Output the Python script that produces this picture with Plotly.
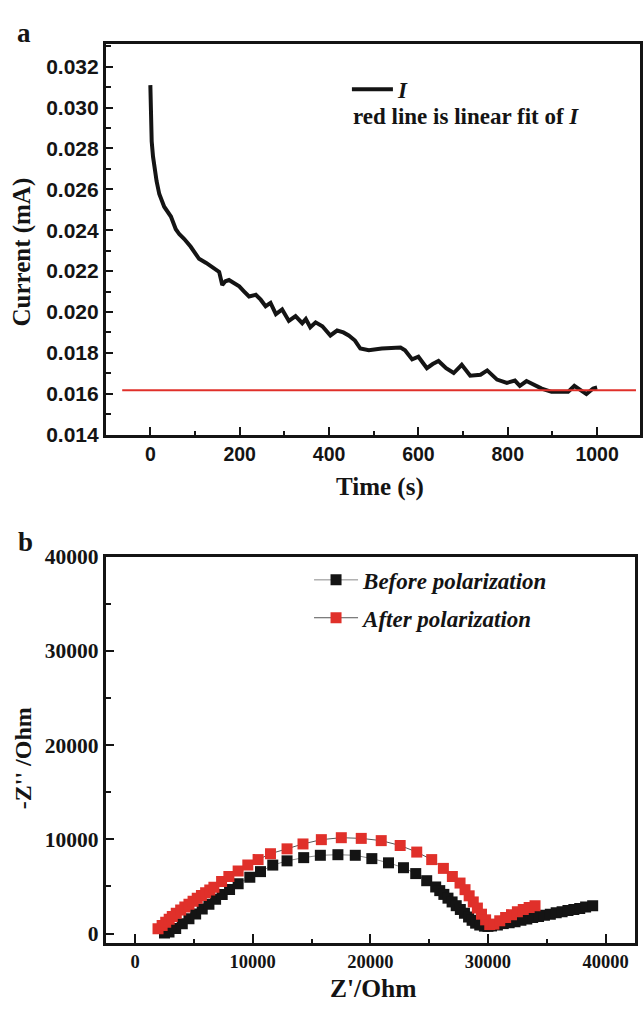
import plotly.graph_objects as go

# ---------------- Panel a data ----------------
time_s = [0, 0.5, 1.5, 3, 6, 9, 14, 20, 31, 46, 57, 65, 76, 90, 102, 109, 125, 139, 154, 161,
          168, 176, 188, 199, 210, 221, 236, 247, 258, 269, 281, 295, 310, 325, 340, 348, 358,
          370, 385, 403, 418, 432, 444, 458, 470, 489, 518, 540, 560, 570, 586, 600, 619, 632,
          645, 662, 679, 697, 716, 739, 754, 776, 798, 816, 827, 842, 861, 876, 898, 915, 935,
          949, 961, 976, 991, 1000]
current_mA = [0.03110, 0.03000, 0.02931, 0.02835, 0.02760, 0.02706, 0.02640, 0.02577, 0.02515,
              0.02467, 0.02405, 0.02380, 0.02357, 0.02320, 0.02285, 0.02260, 0.02240, 0.02220,
              0.02196, 0.02132, 0.02150, 0.02156, 0.02140, 0.02125, 0.02100, 0.02076, 0.02084,
              0.02060, 0.02028, 0.02044, 0.01989, 0.02012, 0.01956, 0.01980, 0.01945, 0.01965,
              0.01925, 0.01949, 0.01930, 0.01885, 0.01909, 0.01900, 0.01885, 0.01860, 0.01821,
              0.01813, 0.01821, 0.01823, 0.01826, 0.01813, 0.01768, 0.01781, 0.01725, 0.01745,
              0.01760, 0.01725, 0.01701, 0.01741, 0.01688, 0.01693, 0.01714, 0.01669, 0.01653,
              0.01664, 0.01638, 0.01662, 0.01641, 0.01625, 0.01609, 0.01608, 0.01609, 0.01638,
              0.01619, 0.01598, 0.01625, 0.01630]
fit_time = [-63, 1087]
fit_current = [0.01617, 0.01617]

time_ticks = [0, 200, 400, 600, 800, 1000]
current_ticks = [0.014, 0.016, 0.018, 0.020, 0.022, 0.024, 0.026, 0.028, 0.030, 0.032]

# ---------------- Panel b data ----------------
before_zre = [2500, 2884, 3452, 4012, 4580, 5148, 5708, 6277, 6845, 7405, 8032, 8762, 9754,
              10662, 11705, 12918, 14334, 15750, 17243, 18719, 20127, 21544, 22816, 23859,
              24792, 25555, 25900, 26250, 26600, 26950, 27300, 27650, 28000, 28350, 28650,
              28950, 29300, 29700, 30000, 30300, 30800, 31300, 31800, 32300, 32800, 33300,
              33800, 34300, 34800, 35300, 35800, 36300, 36800, 37300, 37800, 38300, 38900]
before_zim = [50, 166, 519, 1037, 1556, 2075, 2593, 3112, 3631, 4149, 4668, 5290, 5975,
              6566, 7261, 7708, 8050, 8299, 8361, 8299, 7946, 7500, 6981, 6359,
              5602, 4938, 4550, 4150, 3750, 3350, 2950, 2550, 2150, 1750, 1400,
              1100, 900, 780, 760, 800, 900, 1050, 1150, 1250, 1400, 1550,
              1700, 1800, 1950, 2050, 2200, 2300, 2450, 2550, 2650, 2800, 2950]

after_zre = [1950, 2300, 2604, 2900, 3164, 3500, 3876, 4230, 4580, 4930, 5284, 5640, 5997,
             6350, 6701, 7354, 7973, 8762, 9584, 10458, 11510, 12918, 14275, 15835, 17532,
             19228, 20925, 22536, 23944, 25216, 26209, 26972, 27625, 28049, 28400, 28750,
             29100, 29450, 29800, 30150, 30500, 31000, 31500, 32000, 32500, 33000, 33500, 34000]
after_zim = [500, 850, 1203, 1500, 1795, 2140, 2490, 2800, 3112, 3420, 3734, 4020, 4315,
             4610, 4907, 5529, 6048, 6639, 7261, 7842, 8465, 8983, 9502, 9959, 10166,
             10093, 9855, 9336, 8641, 7842, 6909, 6048, 5353, 4650, 4000, 3350,
             2700, 2050, 1450, 950, 1000, 1350, 1700, 2000, 2300, 2550, 2750, 2950]

zre_ticks = [0, 10000, 20000, 30000, 40000]
zim_ticks = [0, 10000, 20000, 30000, 40000]

SERIF = "Liberation Serif, Times New Roman, serif"
SANS = "Liberation Sans, Arial, sans-serif"
INK = "#141414"
RED = "#e0302a"

fig = go.Figure()

fig.add_trace(go.Scatter(x=time_s, y=current_mA, mode="lines", name="I",
                         line=dict(color=INK, width=4), xaxis="x", yaxis="y",
                         legend="legend"))
fig.add_trace(go.Scatter(x=fit_time, y=fit_current, mode="lines", name="fit",
                         line=dict(color=RED, width=2), xaxis="x", yaxis="y",
                         showlegend=False))

fig.add_trace(go.Scatter(x=before_zre, y=before_zim, mode="lines+markers",
                         name="Before polarization",
                         line=dict(color="#8a8a8a", width=1),
                         marker=dict(symbol="square", size=11, color=INK),
                         xaxis="x2", yaxis="y2", legend="legend2", legendgroup="g1"))
fig.add_trace(go.Scatter(x=after_zre, y=after_zim, mode="lines+markers",
                         name="After polarization",
                         line=dict(color="#555555", width=1),
                         marker=dict(symbol="square", size=11, color=RED),
                         xaxis="x2", yaxis="y2", legend="legend2", legendgroup="g2"))

W, H = 643, 1009
def px(x):
    return x / W
def py(y):
    return 1 - y / H

axis_common = dict(showline=True, linecolor=INK, linewidth=2.5, mirror=True,
                   ticks="inside", tickcolor=INK, tickwidth=2, showgrid=False,
                   zeroline=False)

fig.update_layout(
    width=W, height=H, margin=dict(l=0, r=0, t=0, b=0),
    paper_bgcolor="white", plot_bgcolor="white",
    xaxis=dict(domain=[px(106), px(642)], range=[-100, 1096], tickvals=time_ticks,
               ticklen=8, tickfont=dict(family=SANS, size=19.5, color=INK, weight="bold"),
               minor=dict(dtick=100, tick0=0, ticks="inside", ticklen=4, tickwidth=2,
                          tickcolor=INK),
               anchor="y", **axis_common),
    yaxis=dict(domain=[py(433), py(34)], range=[0.014, 0.0331], tickvals=current_ticks,
               tickformat=".3f", ticklen=8,
               tickfont=dict(family=SANS, size=21, color=INK, weight="bold"),
               minor=dict(dtick=0.001, tick0=0.014, ticks="inside", ticklen=6, tickwidth=2,
                          tickcolor=INK),
               anchor="x", **axis_common),
    xaxis2=dict(domain=[px(106), px(637)], range=[-2500, 42500], tickvals=zre_ticks,
                tickformat="d", ticklen=9,
                tickfont=dict(family=SERIF, size=18.5, color=INK, weight="bold"),
                minor=dict(dtick=5000, tick0=0, ticks="inside", ticklen=4, tickwidth=2,
                           tickcolor=INK),
                anchor="y2", **axis_common),
    yaxis2=dict(domain=[py(952.7), py(557.7)], range=[-1000, 40000], tickvals=zim_ticks,
                tickformat="d", ticklen=9,
                tickfont=dict(family=SERIF, size=21.5, color=INK, weight="bold"),
                minor=dict(dtick=5000, tick0=0, ticks="inside", ticklen=6, tickwidth=2,
                           tickcolor=INK),
                anchor="x2", **axis_common),
    legend=dict(x=px(348), y=py(80), xanchor="left", yanchor="middle", itemwidth=41,
                bgcolor="rgba(0,0,0,0)", borderwidth=0,
                font=dict(family=SERIF, size=23, color=INK, weight="bold", style="italic")),
    legend2=dict(x=px(310), y=py(601), xanchor="left", yanchor="middle", itemwidth=44,
                 bgcolor="rgba(0,0,0,0)", borderwidth=0, tracegroupgap=5,
                 font=dict(family=SERIF, size=23, color=INK, weight="bold", style="italic")),
)

ann = []
def text(x, y, s, size, angle=0, xanchor="center", family=SERIF, style="normal"):
    ann.append(dict(x=px(x), y=py(y), xref="paper", yref="paper", text=s, showarrow=False,
                    textangle=angle, xanchor=xanchor, yanchor="middle",
                    font=dict(family=family, size=size, color=INK, weight="bold",
                              style=style)))

text(24, 22, "a", 27)
text(26, 543, "b", 27)
text(22, 246, "Current (mA)", 25, angle=-90)
text(381, 487, "Time (s)", 25)
text(352, 108, "red line is linear fit of <i>I</i>", 23, xanchor="left")
text(23, 764, "-Z'' /Ohm", 24, angle=-90)
text(374, 999, "Z'/Ohm", 25.5)
fig.update_layout(annotations=ann)

fig.write_html("out.html")
